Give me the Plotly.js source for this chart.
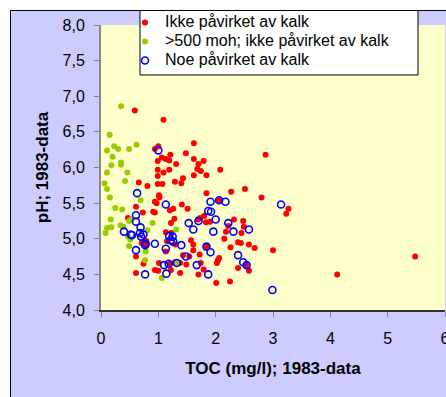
<!DOCTYPE html>
<html>
<head>
<meta charset="utf-8">
<script src="https://cdn.plot.ly/plotly-3.0.1.min.js"></script>
<style>html,body{margin:0;padding:0;background:#fff;}#chart{width:446px;height:397px;}</style>
</head>
<body>
<div id="chart"></div>
<script>
// Series names
var seriesNames = ["Ikke påvirket av kalk", ">500 moh; ikke påvirket av kalk", "Noe påvirket av kalk"];
var xTitle = "TOC (mg/l); 1983-data";
var yTitle = "pH; 1983-data";

// Ikke påvirket av kalk (red)
var redX = [0.59,1.09,1.62,1.00,0.94,2.87,1.21,1.48,1.06,1.13,1.19,0.99,1.62,1.79,1.70,1.31,1.68,1.74,2.08,0.99,
            1.19,1.09,0.99,1.62,1.84,1.43,1.40,1.29,0.99,1.07,0.81,0.66,2.51,2.27,1.84,2.80,1.01,1.02,0.94,0.97,
            1.41,1.51,1.26,1.20,0.91,0.94,0.73,0.61,3.27,3.23,2.06,1.80,1.73,1.69,1.83,1.90,2.48,2.32,2.22,2.18,
            2.49,2.15,2.45,2.44,2.39,2.58,2.68,3.00,2.26,1.57,1.61,1.61,1.84,1.72,2.06,2.04,1.74,2.02,2.39,2.58,
            2.53,1.79,1.70,2.01,2.25,1.38,1.49,1.43,1.28,1.22,0.47,1.23,1.13,1.15,0.71,0.79,0.78,1.30,0.61,0.74,
            0.61,0.94,1.00,1.01,1.20,1.22,1.38,1.29,1.54,1.13,4.12,5.48];
var redY = [6.80,6.67,6.34,6.30,6.26,6.18,6.18,6.20,6.14,6.12,6.10,6.09,6.12,6.09,6.05,6.05,5.98,5.95,5.97,5.97,
            5.97,5.93,5.88,5.89,5.89,5.85,5.78,5.80,5.77,5.77,5.74,5.79,5.70,5.66,5.64,5.58,5.61,5.58,5.52,5.50,
            5.48,5.42,5.42,5.40,5.38,5.37,5.37,5.45,5.42,5.35,5.54,5.32,5.29,5.27,5.23,5.24,5.25,5.27,5.18,5.10,
            5.17,5.00,5.08,4.94,4.95,4.92,4.87,4.84,4.88,4.98,4.92,4.84,4.89,4.78,4.73,4.70,4.66,4.66,4.59,4.55,
            4.63,4.57,4.50,4.38,4.40,4.52,4.64,4.77,5.28,5.22,5.29,5.08,5.09,4.97,4.94,4.97,4.91,4.92,4.75,4.65,
            4.52,4.56,4.55,4.66,4.65,4.56,4.66,4.67,4.75,4.82,4.50,4.75];

// >500 moh; ikke påvirket av kalk (green)
var greenX = [0.35,0.15,0.105,0.23,0.30,0.49,0.62,0.20,0.35,0.35,0.18,0.105,0.46,0.42,0.06,0.105,0.155,0.69,0.25,0.37,
              0.17,0.105,0.18,0.08,0.34,0.39,0.49,0.53,0.90,0.81,0.47,0.51,0.49,0.78,0.77,1.06,1.31,1.33];
var greenY = [6.86,6.46,6.24,6.30,6.26,6.26,6.32,6.15,6.07,6.04,6.03,5.93,5.93,5.81,5.78,5.70,5.58,5.54,5.43,5.41,
              5.27,5.15,5.16,5.08,5.19,5.17,5.25,5.27,5.22,5.12,5.03,4.99,4.90,4.82,4.70,4.45,5.13,4.66];

// Noe påvirket av kalk (blue, open)
var blueX = [1.00,0.63,1.13,0.61,0.61,0.69,0.40,0.54,0.52,0.68,0.74,0.70,0.78,0.77,0.61,0.77,0.94,1.13,1.19,1.25,
             1.215,1.26,1.40,1.48,1.32,1.18,1.10,1.14,1.53,1.61,1.70,1.87,1.92,1.91,2.06,2.17,2.00,1.96,2.22,2.31,
             2.58,1.84,1.91,1.67,1.87,2.39,2.48,2.54,2.99,3.14];
var blueY = [6.24,5.64,5.48,5.33,5.24,5.16,5.10,5.05,5.06,5.08,5.06,5.03,4.93,4.91,4.84,4.50,4.93,4.86,5.04,5.03,
             4.98,4.96,4.91,4.75,4.66,4.65,4.63,4.51,5.22,5.13,5.25,5.39,5.38,5.52,5.54,5.52,5.27,5.10,5.22,5.10,
             5.13,4.89,4.81,4.63,4.50,4.77,4.67,4.63,4.28,5.48];

var FONT = "Liberation Sans, Arial, sans-serif";
function legendName(s){ return '<span style="font-size:16px">' + s + '</span>'; }

var traces = [
  {x: redX, y: redY, type: 'scatter', mode: 'markers', name: legendName(seriesNames[0]),
   marker: {color: '#ff0000', size: 6, line: {width: 0}}},
  {x: greenX, y: greenY, type: 'scatter', mode: 'markers', name: legendName(seriesNames[1]),
   marker: {color: '#99cc00', size: 6, line: {width: 0}}},
  {x: blueX, y: blueY, type: 'scatter', mode: 'markers', name: legendName(seriesNames[2]),
   marker: {color: '#0000ff', size: 7, symbol: 'circle-open', line: {color: '#0000ff', width: 1.6}}}
];

// paper coordinate helpers (plot area: x 101..445 px, y 25..310 px)
var L = 101, T = 25, PW = 344, PH = 285;
function px(x){ return (x - L) / PW; }
function py(y){ return (T + PH - y) / PH; }

var layout = {
  width: 446, height: 397,
  margin: {l: L, r: 446 - L - PW, t: T, b: 397 - T - PH, pad: 0},
  paper_bgcolor: '#ccccff',
  plot_bgcolor: '#ffffcc',
  separators: ', ',
  font: {family: FONT, color: '#000'},
  showlegend: true,
  xaxis: {
    range: [0, 6], tick0: 0, dtick: 1, ticks: 'outside', ticklen: 5, tickwidth: 1, tickcolor: '#808080',
    showline: true, linecolor: '#333333', linewidth: 1.5, showgrid: false, zeroline: false,
    tickfont: {family: FONT, size: 16, color: '#000'}, ticklabelstandoff: 8, ticklabeloverflow: 'allow',
    title: {text: xTitle, font: {family: FONT, size: 17, weight: 'bold', color: '#000'}, standoff: 16}
  },
  yaxis: {
    range: [4, 8], tick0: 4, dtick: 0.5, tickformat: '.1f', ticks: 'outside', ticklen: 5, tickwidth: 1, tickcolor: '#808080',
    showline: true, linecolor: '#888888', linewidth: 2, showgrid: false, zeroline: false,
    tickfont: {family: FONT, size: 16, color: '#000'}, ticklabelstandoff: 6,
    title: {text: yTitle, font: {family: FONT, size: 17, weight: 'bold', color: '#000'}, standoff: 10}
  },
  legend: {
    x: px(125), y: py(8), xanchor: 'left', yanchor: 'top',
    bgcolor: 'rgba(0,0,0,0)', borderwidth: 0,
    font: {family: FONT, size: 12, color: '#000'},
    tracegroupgap: 0
  },
  shapes: [
    {type: 'rect', xref: 'paper', yref: 'paper', x0: px(-5), x1: px(10), y0: py(402), y1: py(-5),
     fillcolor: '#ffffff', line: {width: 0}, layer: 'below'},
    {type: 'rect', xref: 'paper', yref: 'paper', x0: px(-5), x1: px(451), y0: py(10), y1: py(-5),
     fillcolor: '#ffffff', line: {width: 0}, layer: 'below'},
    {type: 'line', xref: 'paper', yref: 'paper', x0: px(10.5), x1: px(451), y0: py(10.5), y1: py(10.5),
     line: {color: '#000', width: 1}, layer: 'below'},
    {type: 'line', xref: 'paper', yref: 'paper', x0: px(10.5), x1: px(10.5), y0: py(10.5), y1: py(402),
     line: {color: '#000', width: 1}, layer: 'below'},
    {type: 'rect', xref: 'paper', yref: 'paper', x0: px(140), x1: px(418), y0: py(75), y1: py(10.5),
     fillcolor: '#ffffff', line: {color: '#000', width: 1}, layer: 'above'}
  ]
};

Plotly.newPlot('chart', traces, layout, {staticPlot: true, displayModeBar: false});
</script>
</body>
</html>
